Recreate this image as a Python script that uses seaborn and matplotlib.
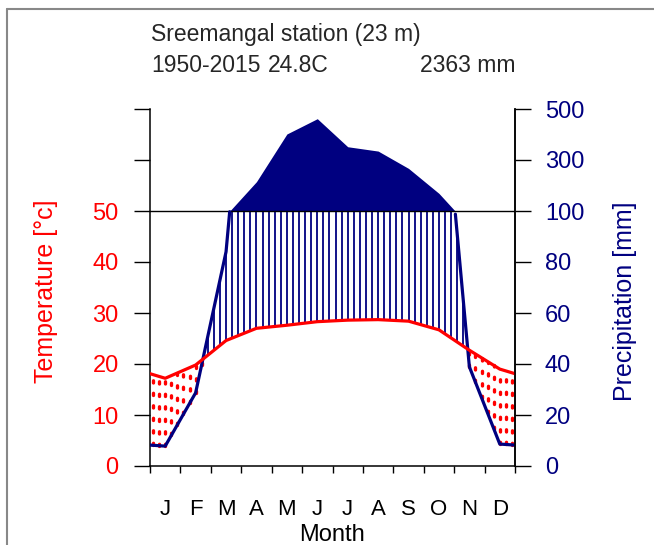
import numpy as np
import pandas as pd
import matplotlib
matplotlib.use("Agg")
import matplotlib.pyplot as plt
import seaborn as sns
from matplotlib.lines import Line2D

# ---------------- data ----------------
months = ["J", "F", "M", "A", "M", "J", "J", "A", "S", "O", "N", "D"]
temp_c = [17.2, 19.8, 24.6, 27.0, 27.6, 28.3, 28.6, 28.7, 28.4, 26.7, 22.7, 19.0]
precip_mm = [7.8, 28.7, 84.0, 215.0, 402.0, 462.0, 352.0, 335.0, 267.0, 169.0, 38.9, 8.6]
axis_ticks = [0, 10, 20, 30, 40, 50, 60, 70]
temp_labels = ["0", "10", "20", "30", "40", "50", "", ""]
precip_labels = ["0", "20", "40", "60", "80", "100", "300", "500"]
title_station = "Sreemangal station (23 m)"
title_period = "1950-2015"
title_temp = "24.8C"
title_precip = "2363 mm"

# ---------------- style ----------------
sns.set_theme(style="white")
plt.rcParams['font.family'] = ['Liberation Sans', 'DejaVu Sans']
plt.rcParams['lines.scale_dashes'] = False

NAVY = "#000080"
RED = "#FF0000"
W, H = 654, 545
FS = 17
FT = 16.5

fig = plt.figure(figsize=(W / 100, H / 100), dpi=100)
ax = fig.add_axes([150 / W, (H - 466) / H, 365 / W, 357 / H])


def scale_p(p):
    p = np.asarray(p, float)
    return np.where(p <= 100, p / 2.0, 50 + (p - 100) / 20.0)


# month-centre positions with wrap-around ends (Walter-Lieth layout)
xm = np.arange(12) + 0.5
xe = np.concatenate([[-0.5], xm, [12.5]])
te = np.concatenate([[temp_c[-1]], temp_c, [temp_c[0]]])
pe = np.concatenate([[precip_mm[-1]], precip_mm, [precip_mm[0]]])

# fine grid for drawing (precip interpolated in mm, then rescaled)
xf = np.linspace(-0.5, 12.5, 1301)
pf = np.interp(xf, xe, pe)

# hatch grid (66 points)
xg = -0.5 + 0.2 * np.arange(66)
tg = np.interp(xg, xe, te)
pg = scale_p(np.interp(xg, xe, pe))
wet = pg > tg
dry = ~wet

# humid period: vertical blue lines
ax.vlines(xg[wet], tg[wet], np.minimum(pg[wet], 50), color=NAVY, lw=1.3, zorder=2)
# arid period: red dotted lines
dl = ax.vlines(xg[dry], pg[dry], tg[dry], color=RED, lw=2.4,
               linestyles=[(0, (1.6, 7.4))], zorder=2)
dl.set_capstyle('round')

# perhumid (>100 mm) fill
ax.fill_between(xf, 50, scale_p(np.maximum(pf, 100)), color=NAVY, lw=0, zorder=3)

# 100 mm reference line
ax.axhline(50, color="black", lw=1.0, zorder=3)

# precipitation line (<=100 mm part)
below = pf <= 100
seg = np.cumsum(np.r_[0, np.diff(below.astype(int)) != 0])
dfp = pd.DataFrame({"x": xf, "y": pf / 2.0, "seg": seg})[below]
sns.lineplot(data=dfp, x="x", y="y", units="seg", estimator=None, color=NAVY,
             lw=2.3, ax=ax, zorder=4, sort=False)

# temperature line
dft = pd.DataFrame({"x": xe, "t": te})
sns.lineplot(data=dft, x="x", y="t", color=RED, lw=2.3, ax=ax, zorder=5, sort=False)

ax.set_xlim(0, 12)
ax.set_ylim(0, 70)
ax.set_xlabel("")
ax.set_ylabel("")

for s in ["left", "right", "bottom"]:
    ax.spines[s].set_visible(True)
    ax.spines[s].set_color("black")
    ax.spines[s].set_linewidth(1.1)
ax.spines["top"].set_visible(False)

ax.set_yticks(axis_ticks, temp_labels)
ax.tick_params(axis="y", which="major", left=True, direction="out", length=11.5,
               width=1.0, color="black", labelcolor=RED, labelsize=FS, pad=11)

ax.set_xticks(np.arange(13))
ax.set_xticklabels([])
ax.set_xticks(xm, minor=True)
ax.set_xticklabels(months, minor=True)
ax.tick_params(axis="x", which="major", bottom=True, direction="out", length=5,
               width=1.0, color="black")
ax.tick_params(axis="x", which="minor", bottom=True, length=0, labelsize=FS - 1,
               pad=24, labelcolor="black")

ax2 = ax.twinx()
ax2.set_ylim(0, 70)
ax2.set_yticks(axis_ticks, precip_labels)
ax2.tick_params(axis="y", right=True, direction="out", length=11.5, width=1.0,
                color="black", labelcolor=NAVY, labelsize=FS, pad=10)
for s in ["left", "top", "bottom"]:
    ax2.spines[s].set_visible(False)
ax2.spines["right"].set_visible(True)
ax2.spines["right"].set_color("black")
ax2.spines["right"].set_linewidth(1.1)
ax2.grid(False)
ax.grid(False)

# axis titles
fig.text(46 / W, 1 - 291 / H, "Temperature [°c]", color=RED, fontsize=FS + 1,
         rotation=90, ha="center", va="center")
fig.text(625 / W, 1 - 301 / H, "Precipitation [mm]", color=NAVY, fontsize=FS + 1,
         rotation=90, ha="center", va="center")
fig.text(332 / W, 1 - 535 / H, "Month", color="black", fontsize=FS,
         ha="center", va="center")

# header
fig.text(151 / W, 1 - 34 / H, title_station, fontsize=FT, ha="left", va="center")
fig.text(151 / W, 1 - 65 / H, title_period, fontsize=FT, ha="left", va="center")
fig.text(268 / W, 1 - 65 / H, title_temp, fontsize=FT, ha="left", va="center")
fig.text(515 / W, 1 - 65 / H, title_precip, fontsize=FT, ha="right", va="center")

# outer frame (left and top edges)
fig.add_artist(Line2D([7 / W, 7 / W], [0, 1 - 9 / H], transform=fig.transFigure,
                      color="#888888", lw=1.5))
fig.add_artist(Line2D([7 / W, 1], [1 - 9 / H, 1 - 9 / H], transform=fig.transFigure,
                      color="#888888", lw=1.5))

fig.savefig("out.png", dpi=100, facecolor="white")
